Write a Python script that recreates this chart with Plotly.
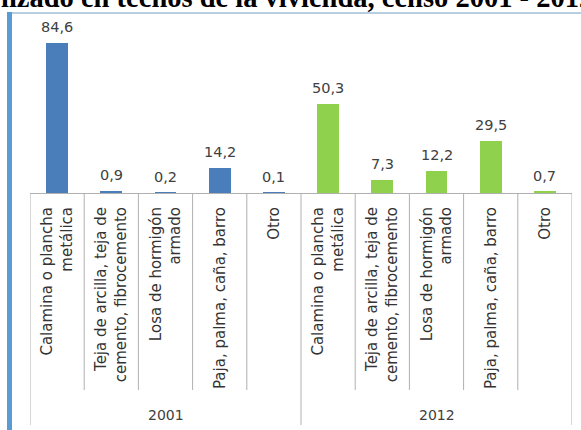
import plotly.graph_objects as go

# ---- data ----
years = ["2001", "2012"]
categories = [
    "Calamina o plancha<br>metálica",
    "Teja de arcilla, teja de<br>cemento, fibrocemento",
    "Losa de hormigón<br>armado",
    "Paja, palma, caña, barro",
    "Otro",
]
values_2001 = [84.6, 0.9, 0.2, 14.2, 0.1]
values_2012 = [50.3, 7.3, 12.2, 29.5, 0.7]
value_labels_2001 = ["84,6", "0,9", "0,2", "14,2", "0,1"]
value_labels_2012 = ["50,3", "7,3", "12,2", "29,5", "0,7"]
title_text = "lizado en techos de la vivienda, censo 2001 - 2012"

# ---- layout geometry (pixels) ----
W, H = 581, 430
L, R, T, B = 30, 9, 14, 237
pw, ph = W - L - R, H - T - B
px_per_unit = 150 / 84.6
ymax = ph / px_per_unit

def px_x(p):
    return (p - L) / pw

def px_y(p):
    return (H - B - p) / ph

FONT = "DejaVu Sans"
colors = {"2001": "#4a7ebb", "2012": "#8fd04c"}
series = {"2001": values_2001, "2012": values_2012}
labels = {"2001": value_labels_2001, "2012": value_labels_2012}

n = len(categories)
fig = go.Figure()
annotations = []
for g, yr in enumerate(years):
    xs = [g * n + i for i in range(n)]
    fig.add_trace(go.Bar(
        x=xs, y=series[yr], width=0.4,
        marker=dict(color=colors[yr], line=dict(width=0)),
        showlegend=False, hoverinfo="skip",
    ))
    for xv, yv, t in zip(xs, series[yr], labels[yr]):
        annotations.append(dict(
            x=xv, y=yv, xref="x", yref="y", text=t, showarrow=False,
            yanchor="bottom", yshift=6,
            font=dict(family=FONT, size=14.5, color="#404040"),
        ))
    annotations.append(dict(
        x=sum(xs) / len(xs), y=px_y(415), xref="x", yref="paper", text=yr,
        showarrow=False, yanchor="middle",
        font=dict(family=FONT, size=14, color="#404040"),
    ))

annotations.append(dict(
    x=px_x(-1), y=px_y(-3), xref="paper", yref="paper", text="<b>" + title_text + "</b>",
    showarrow=False, xanchor="left", yanchor="middle",
    font=dict(family="Liberation Serif", size=28.5, color="#000000"),
))

shapes = []
div_color = "#b0b0b0"
total = n * len(years)
for k in range(total + 1):
    outer = (k % n == 0)
    shapes.append(dict(
        type="line", xref="x", yref="paper",
        x0=k - 0.5, x1=k - 0.5, y0=0, y1=px_y(425 if outer else 390),
        line=dict(color=div_color, width=1),
    ))
# frame
shapes.append(dict(type="line", xref="paper", yref="paper",
                   x0=px_x(7), x1=px_x(590), y0=px_y(13), y1=px_y(13),
                   line=dict(color="#b8cde0", width=2)))
shapes.append(dict(type="line", xref="paper", yref="paper",
                   x0=px_x(9.5), x1=px_x(9.5), y0=px_y(12), y1=px_y(440),
                   line=dict(color="#5b9bd5", width=5)))

ticktext = categories * len(years)
fig.update_layout(
    width=W, height=H,
    margin=dict(l=L, r=R, t=T, b=B, pad=0),
    paper_bgcolor="white", plot_bgcolor="rgba(0,0,0,0)",
    xaxis=dict(
        tickmode="array", tickvals=list(range(total)), ticktext=ticktext,
        tickangle=-90, range=[-0.5, total - 0.5], showgrid=False, zeroline=False,
        showline=True, linecolor=div_color, linewidth=1, ticks="",
        tickfont=dict(family=FONT, size=15, color="#333333"),
        ticklabelstandoff=7, automargin=False,
    ),
    yaxis=dict(range=[0, ymax], visible=False),
    annotations=annotations, shapes=shapes, bargap=0,
)
fig.write_html("out.html", config={"displayModeBar": False},
               post_script="document.body.style.margin='0px';")
